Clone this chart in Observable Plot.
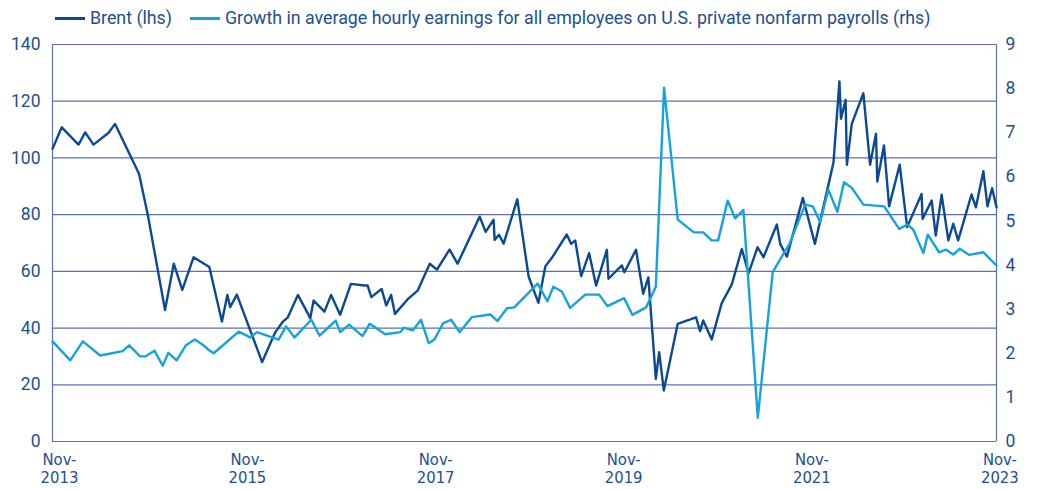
<!DOCTYPE html>
<html><head><meta charset="utf-8">
<script src="https://cdn.jsdelivr.net/npm/d3@7"></script>
<script src="https://cdn.jsdelivr.net/npm/@observablehq/plot@0.6"></script>
<style>
body{margin:0;background:#fff;}
#legend{height:36px;position:relative;font-family:Roboto,"Liberation Sans",sans-serif;font-size:17.8px;color:#1d4f91;}
.item{position:absolute;top:8px;line-height:20px;display:flex;align-items:center;white-space:nowrap;}
.sw{display:inline-block;width:30px;height:3px;margin-right:5px;}
</style></head><body>
<div id="legend">
<div class="item" style="left:55px"><span class="sw" style="background:#0b4a93"></span><span id="l1"></span></div>
<div class="item" style="left:190px"><span class="sw" style="background:#16a2dc"></span><span id="l2"></span></div>
</div>
<div id="chart"></div>
<script>
const seriesNames = ["Brent (lhs)", "Growth in average hourly earnings for all employees on U.S. private nonfarm payrolls (rhs)"];

// Brent: time as decimal year, value in USD/bbl
const brentTime = [2013.759,2013.857,2014.035,2014.106,2014.194,2014.354,2014.425,2014.680,2014.771,2014.956,
2015.048,2015.140,2015.260,2015.427,2015.562,2015.618,2015.650,2015.721,2015.987,2016.128,
2016.210,2016.263,2016.370,2016.500,2016.536,2016.652,2016.724,2016.819,2016.933,2017.077,
2017.109,2017.149,2017.258,2017.308,2017.358,2017.400,2017.545,2017.641,2017.768,2017.847,
2017.981,2018.066,2018.300,2018.363,2018.448,2018.459,2018.506,2018.555,2018.700,2018.820,
2018.926,2018.998,2019.075,2019.228,2019.274,2019.317,2019.380,2019.465,2019.540,2019.653,
2019.670,2019.813,2019.840,2019.965,2020.042,2020.096,2020.174,2020.212,2020.259,2020.408,
2020.602,2020.645,2020.680,2020.769,2020.876,2020.982,2021.088,2021.158,2021.254,2021.318,
2021.460,2021.495,2021.566,2021.736,2021.864,2022.019,2022.062,2022.125,2022.143,2022.193,
2022.204,2022.257,2022.380,2022.451,2022.515,2022.529,2022.600,2022.653,2022.767,2022.845,
2023.001,2023.011,2023.107,2023.150,2023.213,2023.284,2023.337,2023.390,2023.532,2023.578,
2023.656,2023.702,2023.751,2023.798];
const brentValue = [103.2,110.8,104.7,109.0,104.7,108.8,112.0,94.4,80.0,46.4,
62.7,53.5,65.0,61.5,42.3,51.7,47.4,51.8,28.0,38.5,
42.3,43.8,51.7,43.5,49.7,45.8,51.7,44.7,55.6,55.0,
55.0,50.9,53.8,48.0,51.7,45.0,50.5,53.2,62.7,60.6,
67.7,62.7,79.3,73.9,78.2,71.1,72.9,69.8,85.4,58.2,
48.9,61.8,65.0,73.0,69.7,70.9,58.3,66.4,55.0,67.6,
57.4,62.1,59.7,67.6,52.1,57.9,22.1,31.5,18.0,41.5,
43.8,38.9,42.7,36.0,48.8,55.4,67.9,59.3,68.5,65.0,
76.5,69.7,65.2,85.9,69.7,92.0,98.5,127.0,113.8,120.5,
97.6,112.0,122.8,97.6,108.5,91.7,104.4,82.9,97.6,75.6,
87.3,78.5,85.0,72.6,87.0,70.9,76.8,70.9,87.1,82.6,
95.3,82.9,89.3,82.6];

// Growth in average hourly earnings: time as decimal year, value in % y/y
const growthTime = [2013.759,2013.947,2014.081,2014.266,2014.503,2014.574,2014.691,2014.750,2014.843,2014.931,
2014.991,2015.080,2015.179,2015.275,2015.353,2015.420,2015.473,2015.738,2015.863,2015.934,
2016.164,2016.245,2016.334,2016.511,2016.599,2016.695,2016.773,2016.819,2016.915,2017.056,
2017.131,2017.297,2017.457,2017.492,2017.592,2017.677,2017.758,2017.818,2017.911,2017.996,
2018.087,2018.219,2018.413,2018.491,2018.591,2018.668,2018.916,2019.022,2019.086,2019.175,
2019.263,2019.423,2019.572,2019.660,2019.837,2019.926,2020.071,2020.174,2020.262,2020.408,
2020.539,2020.581,2020.680,2020.769,2020.839,2020.939,2021.017,2021.105,2021.258,2021.417,
2021.530,2021.594,2021.761,2021.843,2021.920,2022.008,2022.104,2022.175,2022.257,2022.380,
2022.603,2022.760,2022.848,2022.912,2023.018,2023.065,2023.185,2023.256,2023.337,2023.408,
2023.507,2023.656,2023.798];
const growthValue = [2.27,1.84,2.27,1.95,2.05,2.18,1.93,1.93,2.06,1.72,
2.01,1.84,2.18,2.31,2.20,2.08,2.00,2.49,2.36,2.48,
2.31,2.61,2.36,2.76,2.40,2.59,2.74,2.48,2.65,2.39,
2.67,2.43,2.48,2.58,2.52,2.76,2.23,2.31,2.68,2.76,
2.48,2.82,2.88,2.73,3.02,3.04,3.58,3.18,3.51,3.40,
3.03,3.33,3.33,3.07,3.25,2.87,3.04,3.51,8.02,5.03,
4.81,4.74,4.74,4.56,4.56,5.46,5.06,5.25,0.54,3.84,
4.26,4.48,5.37,5.33,4.97,5.71,5.21,5.88,5.75,5.37,
5.33,4.82,4.92,4.80,4.27,4.69,4.29,4.35,4.24,4.37,
4.23,4.29,3.99];

const leftTicks = [0,20,40,60,80,100,120,140];
const rightTicks = [0,1,2,3,4,5,6,7,8,9];
const xTickYears = [2013,2015,2017,2019,2021,2023];
const xTickMonth = "Nov";

document.getElementById("l1").textContent = seriesNames[0];
document.getElementById("l2").textContent = seriesNames[1];

const toDate = t => { const y = Math.floor(t); return new Date(y, 0, 1 + Math.round((t - y) * 365.25)); };
const k = 140 / 9;
const brent = brentTime.map((t, i) => ({date: toDate(t), value: brentValue[i]}));
const growth = growthTime.map((t, i) => ({date: toDate(t), value: growthValue[i] * k}));
const xDomain = [toDate(2013.759), toDate(2023.798)];
const tickDates = xTickYears.map(y => new Date(y, 10, 1));

const grid = "#5e6fb6";
const textColor = "#1d4f91";
const chart = Plot.plot({
  width: 1037, height: 453,
  marginLeft: 52, marginRight: 41, marginTop: 8, marginBottom: 48,
  x: {type: "time", domain: xDomain},
  y: {domain: [0, 140]},
  style: {fontFamily: "Roboto, 'Liberation Sans', sans-serif", color: textColor, background: "white", overflow: "visible"},
  marks: [
    Plot.ruleY(leftTicks, {stroke: grid, strokeWidth: 1.2}),
    Plot.ruleX(xDomain, {stroke: grid, strokeWidth: 1.2}),
    Plot.axisY({ticks: leftTicks, tickSize: 0, tickPadding: 12, fontSize: 17.5, label: null}),
    Plot.axisY({anchor: "right", ticks: rightTicks.map(v => v * k), tickFormat: d => String(Math.round(d / k)), tickSize: 0, tickPadding: 9, fontSize: 17.5, label: null}),
    Plot.axisX({ticks: tickDates, tickFormat: d => `${xTickMonth}-\n${d.getFullYear()}`, tickSize: 0, tickPadding: 10, fontSize: 16.5, lineHeight: 1.12, fontFamily: "'Liberation Sans Narrow', 'DejaVu Sans Condensed', sans-serif", label: null}),
    Plot.line(brent, {x: "date", y: "value", stroke: "#0b4a93", strokeWidth: 2.4}),
    Plot.line(growth, {x: "date", y: "value", stroke: "#16a2dc", strokeWidth: 2.4})
  ]
});
document.getElementById("chart").appendChild(chart);
</script>
</body></html>
